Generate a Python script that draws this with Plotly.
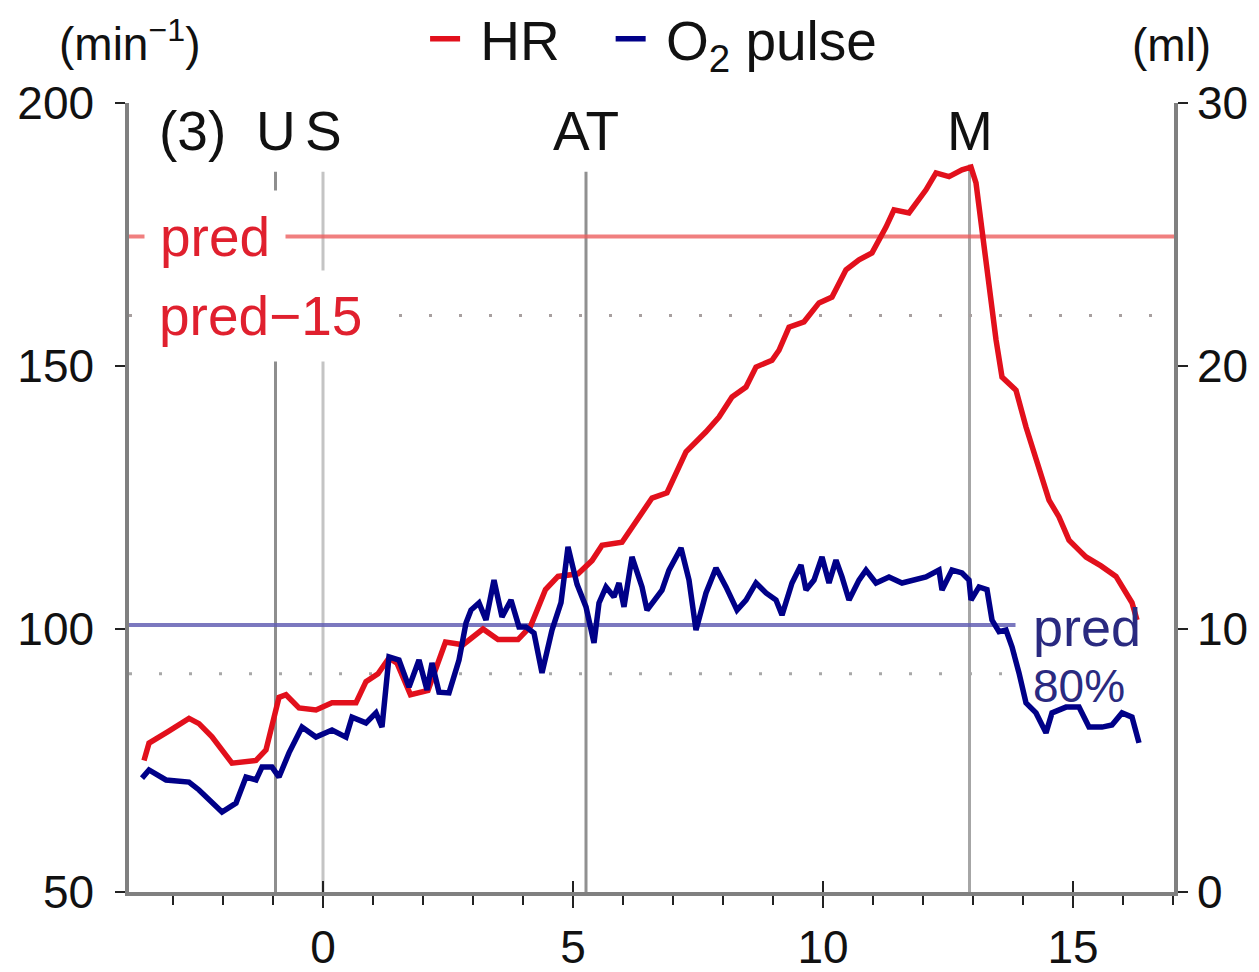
import plotly.graph_objects as go

# ---------------- data ----------------
hr_t = [-3.58, -3.48, -3.1, -2.68, -2.48, -2.22, -1.82, -1.34, -1.14, -0.88, -0.74, -0.48,
        -0.14, 0.18, 0.66, 0.86, 1.1, 1.32, 1.48, 1.75, 2.1, 2.45, 2.8, 3.2, 3.5, 3.9,
        4.15, 4.45, 4.7, 5.1, 5.38, 5.58, 5.98, 6.32, 6.58, 6.88, 7.08, 7.26, 7.66, 7.92,
        8.18, 8.46, 8.66, 8.98, 9.12, 9.32, 9.62, 9.92, 10.18, 10.46, 10.72, 10.98, 11.26,
        11.42, 11.72, 12.06, 12.26, 12.52, 12.78, 12.96, 13.06, 13.18, 13.32, 13.46, 13.58,
        13.86, 14.06, 14.32, 14.52, 14.72, 14.92, 15.12, 15.26, 15.56, 15.86, 16.18, 16.28]
hr_val = [75, 78.3, 80.5, 83, 82, 79.5, 74.5, 75, 77, 87, 87.5, 85,
          84.6, 86, 86, 90, 91.5, 94.5, 93.5, 87.5, 88.3, 97.5, 97, 100, 98, 98,
          100.5, 107.5, 110, 110.5, 113, 115.9, 116.5, 121.3, 124.9, 125.9, 130.2, 133.7, 137.5, 140.3,
          144.1, 146, 149.8, 151.1, 153, 157.4, 158.4, 162, 163.1, 168.3, 170.2, 171.5, 176.4,
          179.7, 179.1, 183.5, 186.7, 186, 187.3, 187.8, 184.8, 175.3, 165.8, 155, 147.9,
          145.4, 138.4, 130.8, 124.5, 121.3, 116.9, 115, 113.7, 112, 110, 105, 101.7]

o2_t = [-3.62, -3.48, -3.14, -2.68, -2.48, -2.02, -1.74, -1.54, -1.34, -1.22, -1.02, -0.88,
        -0.68, -0.42, -0.14, 0.18, 0.46, 0.58, 0.86, 1.06, 1.18, 1.32, 1.52, 1.72, 1.92,
        2.08, 2.18, 2.32, 2.52, 2.72, 2.86, 2.96, 3.12, 3.26, 3.42, 3.58, 3.76, 3.92, 4.06,
        4.22, 4.38, 4.58, 4.76, 4.9, 5.08, 5.26, 5.42, 5.52, 5.66, 5.82, 5.92, 6.02, 6.18,
        6.38, 6.48, 6.78, 6.92, 7.16, 7.32, 7.46, 7.66, 7.86, 8.06, 8.28, 8.46, 8.66, 8.86,
        9.06, 9.18, 9.38, 9.56, 9.66, 9.82, 9.98, 10.12, 10.26, 10.38, 10.52, 10.72, 10.86,
        11.06, 11.32, 11.58, 11.86, 12.06, 12.32, 12.38, 12.58, 12.78, 12.92, 12.96, 13.12,
        13.28, 13.38, 13.52, 13.66, 13.78, 13.92, 14.06, 14.26, 14.46, 14.58, 14.86, 15.12,
        15.32, 15.58, 15.78, 15.98, 16.18, 16.32]
o2_val = [4.33, 4.64, 4.26, 4.18, 3.88, 3.04, 3.38, 4.37, 4.26, 4.75, 4.75, 4.37,
          5.29, 6.27, 5.89, 6.16, 5.89, 6.65, 6.43, 6.81, 6.27, 8.94, 8.82, 7.79, 8.82,
          7.68, 8.71, 7.6, 7.57, 8.82, 10.23, 10.72, 10.99, 10.34, 11.86, 10.46, 11.10, 10.08, 10.08,
          9.85, 8.33, 9.96, 11.0, 13.12, 11.7, 10.84, 9.47, 10.99, 11.6, 11.22, 11.75, 10.84, 12.74,
          11.6, 10.72, 11.48, 12.24, 13.08, 11.86, 9.96, 11.37, 12.32, 11.6, 10.72, 11.10, 11.75, 11.37,
          11.10, 10.53, 11.75, 12.43, 11.48, 11.86, 12.74, 11.75, 12.62, 11.98, 11.10, 11.86, 12.24,
          11.75, 11.98, 11.75, 11.86, 11.98, 12.24, 11.48, 12.24, 12.13, 11.86, 11.10, 11.60,
          11.5, 10.34, 9.9, 9.96, 9.32, 8.33, 7.19, 6.81, 6.05, 6.81, 7.03, 7.03,
          6.27, 6.27, 6.35, 6.81, 6.65, 5.67]

hr_pred = 174.6          # predicted max HR (min^-1)
hr_pred_minus15 = 159.6  # pred - 15
o2_pred = 10.15          # predicted O2 pulse (ml)
o2_pred80 = 8.3          # 80 % of predicted O2 pulse (ml)

event_names = ["U", "S", "AT", "M"]
event_t = [-0.95, 0.0, 5.26, 12.93]
event_colors = ["#8e8e8e", "#c4c4c4", "#909090", "#a6a6a6"]

x_range = [-3.88, 17.02]
hr_range = [50, 200]
o2_range = [0, 30]
x_major_ticks = [0, 5, 10, 15]
hr_ticks = [50, 100, 150, 200]
o2_ticks = [0, 10, 20, 30]

FONT = "Liberation Sans, Arial, Helvetica, sans-serif"
RED = "#e2101c"
BLUE = "#000088"
AXIS_GRAY = "#808080"
NB = "\u00a0"

fig = go.Figure()
# O2 pulse drawn first so that HR lies on top (as in the reference)
fig.add_trace(go.Scatter(x=o2_t, y=o2_val, mode="lines", name=NB + "O<sub>2</sub> pulse",
                         line=dict(color=BLUE, width=5.5), yaxis="y2"))
fig.add_trace(go.Scatter(x=hr_t, y=hr_val, mode="lines", name=NB + "HR" + NB * 3,
                         line=dict(color=RED, width=5.5), yaxis="y"))
# empty helper trace carrying the overlay x-axis (upper half of the major ticks)
fig.add_trace(go.Scatter(x=[], y=[], xaxis="x2", yaxis="y", showlegend=False, hoverinfo="skip"))

shapes = []
for t, c, name in zip(event_t, event_colors, event_names):
    shapes.append(dict(type="line", xref="x", yref="paper", x0=t, x1=t, y0=0,
                       y1=0.922 if name == "M" else 0.913,
                       line=dict(color=c, width=3), layer="below"))
shapes.append(dict(type="line", xref="paper", yref="y", x0=0, x1=1, y0=hr_pred, y1=hr_pred,
                   line=dict(color="rgba(236,95,95,0.8)", width=4), layer="below"))
shapes.append(dict(type="line", xref="paper", yref="y", x0=0, x1=1,
                   y0=hr_pred_minus15, y1=hr_pred_minus15,
                   line=dict(color="#a8a0a0", width=3, dash="3px,27px"), layer="below"))
shapes.append(dict(type="line", xref="x", yref="y2", x0=x_range[0], x1=13.85,
                   y0=o2_pred, y1=o2_pred,
                   line=dict(color="rgba(100,96,180,0.85)", width=4), layer="below"))
shapes.append(dict(type="line", xref="x", yref="y2", x0=x_range[0], x1=13.85,
                   y0=o2_pred80, y1=o2_pred80,
                   line=dict(color="#a8a8a8", width=3, dash="3px,27px"), layer="below"))

annotations = []
annotations.append(dict(text="(min<sup>−1</sup>)", xref="paper", yref="paper", x=0.0, y=1.079,
                        xanchor="center", yanchor="middle", showarrow=False,
                        font=dict(size=46, color="#111", family=FONT)))
annotations.append(dict(text="(ml)", xref="paper", yref="paper", x=0.998, y=1.074,
                        xanchor="center", yanchor="middle", showarrow=False,
                        font=dict(size=46, color="#111", family=FONT)))
annotations.append(dict(text="(3)", xref="x", yref="paper", x=-2.62, y=0.965,
                        xanchor="center", yanchor="middle", showarrow=False,
                        font=dict(size=55, color="#111", family=FONT)))
for t, name in zip(event_t, event_names):
    annotations.append(dict(text=name, xref="x", yref="paper", x=t, y=0.965,
                            xanchor="center", yanchor="middle", showarrow=False,
                            font=dict(size=55, color="#111", family=FONT)))
annotations.append(dict(text="pred", xref="x", yref="y", x=-3.58, y=hr_pred,
                        xanchor="left", yanchor="middle", showarrow=False,
                        bgcolor="white", borderpad=15,
                        font=dict(size=55, color="#e0202e", family=FONT)))
annotations.append(dict(text="pred−15", xref="x", yref="y", x=-3.58, y=hr_pred_minus15,
                        xanchor="left", yanchor="middle", showarrow=False,
                        bgcolor="white", borderpad=14,
                        font=dict(size=55, color="#e0202e", family=FONT)))
annotations.append(dict(text="80%", xref="x", yref="y2", x=14.16, y=o2_pred80, yshift=-12,
                        xanchor="left", yanchor="middle", showarrow=False,
                        font=dict(size=46, color="#2a2a80", family=FONT)))
annotations.append(dict(text="pred", xref="x", yref="y2", x=14.16, y=o2_pred, yshift=-2,
                        xanchor="left", yanchor="middle", showarrow=False,
                        font=dict(size=54, color="#2a2a80", family=FONT)))

tickfont = dict(size=46, color="#111", family=FONT)
fig.update_layout(
    width=1259, height=972,
    margin=dict(l=129, r=85, t=103, b=80, autoexpand=False),
    paper_bgcolor="white", plot_bgcolor="white",
    font=dict(family=FONT, color="#111"),
    showlegend=True,
    legend=dict(orientation="h", x=0.502, xanchor="center", y=1.081, yanchor="middle",
                font=dict(size=55, color="#111", family=FONT), bgcolor="rgba(0,0,0,0)",
                itemwidth=30, tracegroupgap=0, traceorder="reversed"),
    xaxis=dict(range=x_range, tickvals=x_major_ticks, ticks="outside", ticklen=12,
               tickwidth=2, tickcolor="#222", showline=True, linecolor=AXIS_GRAY, linewidth=3.5,
               showgrid=False, zeroline=False, tickfont=tickfont, ticklabelstandoff=0,
               automargin=False,
               minor=dict(dtick=1, tick0=0, ticks="outside", ticklen=9, tickwidth=2,
                          tickcolor="#222", showgrid=False)),
    xaxis2=dict(range=x_range, overlaying="x", anchor="y", side="bottom",
                tickvals=x_major_ticks, ticks="inside", ticklen=11, tickwidth=2,
                tickcolor="#222", showticklabels=False, showline=False, showgrid=False,
                zeroline=False, automargin=False),
    yaxis=dict(range=hr_range, tickvals=hr_ticks, ticks="outside", ticklen=10, tickwidth=2,
               tickcolor="#222", showline=True, linecolor=AXIS_GRAY, linewidth=3.5,
               showgrid=False, zeroline=False, tickfont=tickfont, ticklabelstandoff=12,
               automargin=False),
    yaxis2=dict(range=o2_range, tickvals=o2_ticks, overlaying="y", side="right", anchor="x",
                ticks="outside", ticklen=10, tickwidth=2, tickcolor="#222", showline=True,
                linecolor=AXIS_GRAY, linewidth=3.5, showgrid=False, zeroline=False,
                tickfont=tickfont, ticklabelstandoff=0, automargin=False),
    shapes=shapes,
    annotations=annotations,
)

fig.write_html("out.html")
